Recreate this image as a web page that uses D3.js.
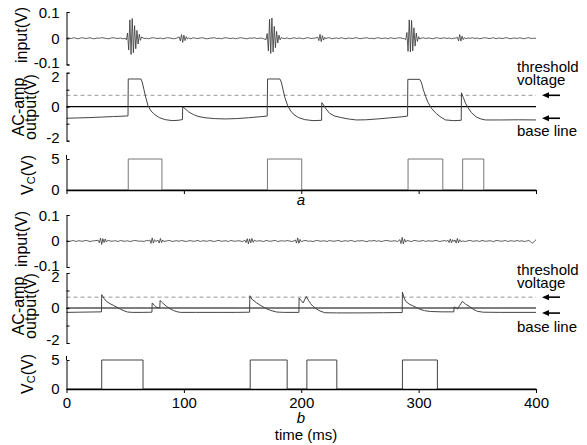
<!DOCTYPE html>
<html>
<head>
<meta charset="utf-8">
<script src="https://cdn.jsdelivr.net/npm/d3@7"></script>
<style>
  body { margin: 0; background: #fff; }
  svg { display: block; font-family: "Liberation Sans", Arial, sans-serif; }
</style>
</head>
<body>
<div id="chart"></div>
<script>
// ---- data (time in ms) ----
const timeTicks = [0, 100, 200, 300, 400];
const inputTicks = [-0.1, 0, 0.1];
const ampTicks = [-2, -1, 0, 1, 2];
const vcTicks = [0, 5];

// input noise, mV, sampled every 2 ms from 0 to 400
const noiseA = [
  0,1,-1,2,0,-2,1,2,-1,0,2,-1,-2,1,0,2,1,-1,-2,1,
  2,0,-1,1,-2,0,2,1,-1,-2,0,1,2,-1,0,-2,1,2,0,-1,
  1,-2,0,2,1,-1,-2,1,0,2,-1,0,1,-2,2,0,-1,1,2,-1,
  -2,0,1,2,-1,0,-2,1,2,0,-1,1,-2,0,2,1,-1,-2,1,0,
  2,-1,0,1,-2,1,2,-1,0,-2,1,2,0,-1,1,-2,0,2,-1,1,
  0,-2,1,2,-1,0,1,-2,2,0,-1,1,2,-2,0,1,-1,2,0,-2,
  1,0,-1,2,1,-2,0,1,2,-1,0,-2,1,2,-1,0,1,-2,2,0,
  -1,1,2,0,-2,1,-1,2,0,1,-2,0,2,-1,1,0,-2,1,2,-1,
  0,2,-1,1,-2,0,1,2,-1,0,-2,1,0,2,-1,1,-2,0,2,1,
  -1,0,2,-2,1,0,-1,2,1,-2,0,1,-1,2,0,-2,1,2,-1,0,
  0
];
const noiseB = [
  1,-1,0,2,-2,1,0,-1,2,1,-2,0,1,2,-1,-2,1,0,2,-1,
  0,1,-2,2,0,-1,1,-2,0,2,1,-1,0,-2,2,1,-1,0,1,-2,
  2,0,-1,1,2,-2,0,1,-1,2,0,-2,1,1,-1,0,2,-2,1,0,
  -1,2,0,-2,1,2,-1,0,1,-2,2,0,-1,1,0,-2,2,1,-1,0,
  2,-1,1,0,-2,2,0,-1,1,2,-2,0,1,-1,2,0,-2,1,0,1,
  -2,1,2,-1,0,-2,1,2,-1,0,1,-2,2,0,-1,1,2,-2,0,1,
  -1,2,0,-2,1,0,2,-1,-2,1,0,2,-1,1,-2,0,2,1,-1,0,
  1,-2,2,0,-1,1,0,-2,2,1,-1,0,2,-2,1,0,-1,2,1,-2,
  0,2,-1,1,-2,0,2,-1,1,0,-2,1,2,-1,0,1,-2,2,0,-1,
  1,0,-2,2,1,-1,0,2,-2,1,0,-1,2,-1,1,-2,0,2,-1,1,
  0
];
// bursts, mV, sampled every 1 ms starting at t0
const burstsA = [
  { t0: 51, v: [-6,20,-45,70,-62,75,-55,48,-40,30,-22,15,-8,5] },
  { t0: 96, v: [5,-10,14,-16,12,-9,6,-3] },
  { t0: 170, v: [-5,18,-48,72,-58,77,-52,45,-36,26,-18,12,-6,3] },
  { t0: 214, v: [4,-9,15,-13,10,-7,4,-2] },
  { t0: 289, v: [-6,22,-50,70,-52,68,-48,40,-30,20,-12,6,-3] },
  { t0: 333, v: [4,-10,14,-11,8,-5,3] }
];
const burstsB = [
  { t0: 27, v: [3,-7,11,-13,9,-6,8,-4,2] },
  { t0: 71, v: [4,-9,12,-8,5,-2] },
  { t0: 78, v: [3,-8,10,-6,4,-2] },
  { t0: 152, v: [3,-6,9,-11,8,-7,10,-5,3] },
  { t0: 195, v: [4,-8,12,-9,6,-3] },
  { t0: 284, v: [5,-10,14,-11,7,-4,2] },
  { t0: 325, v: [3,-6,8,-7,5,-2] },
  { t0: 331, v: [4,-8,10,-7,5,-2] },
  { t0: 394, v: [2,-2,-5,-8,-5,1,5] }
];

// AC-amp output [t, V]
const ampA = [
  [0,-0.68],[10,-0.66],[20,-0.64],[30,-0.61],[40,-0.58],[50,-0.55],[52.4,-0.54],
  [52.6,1.63],[63.4,1.63],[64.5,1.45],[66,1.0],[67.5,0.55],[69.5,0.05],[72,-0.25],
  [75,-0.45],[79,-0.64],[84,-0.76],[90,-0.82],[95,-0.8],[98.8,-0.76],[99,0.0],
  [101,-0.12],[104,-0.3],[108,-0.46],[112,-0.57],[118,-0.65],[126,-0.7],[135,-0.72],
  [145,-0.7],[155,-0.65],[165,-0.59],[171,-0.55],[171.3,1.63],[181.8,1.63],[183,1.45],
  [184.5,1.0],[186,0.55],[188.5,0.05],[191,-0.25],[194,-0.48],[198,-0.65],[203,-0.76],
  [210,-0.82],[217.3,-0.8],[217.5,0.24],[219,0.1],[221,-0.12],[224,-0.38],[228,-0.54],
  [234,-0.64],[240,-0.72],[247,-0.78],[255,-0.77],[265,-0.72],[275,-0.66],[285,-0.6],
  [290.6,-0.55],[290.8,1.61],[301,1.61],[302.5,1.4],[304,1.0],[306,0.6],[308,0.25],
  [311,-0.1],[315,-0.4],[319,-0.62],[323,-0.78],[330,-0.82],[336.3,-0.8],[336.5,0.82],
  [338,0.55],[340,0.2],[342,-0.05],[345,-0.35],[349,-0.6],[353,-0.72],[357,-0.78],
  [370,-0.78],[385,-0.77],[400,-0.78]
];
const ampB = [
  [0,-0.25],[10,-0.24],[20,-0.23],[29.8,-0.22],[30,0.76],[32,0.55],[34,0.38],[37,0.25],
  [40,0.15],[43,0.04],[46,-0.07],[49,-0.16],[52,-0.23],[56,-0.25],[65,-0.25],[72.8,-0.24],
  [73,0.29],[75,0.14],[77,0.03],[79.5,0.02],[79.7,0.43],[82,0.28],[85,0.1],[88,-0.03],
  [91,-0.14],[94,-0.21],[97,-0.25],[110,-0.25],[130,-0.25],[145,-0.25],[156,-0.24],
  [156.2,0.7],[158,0.5],[162,0.29],[166,0.12],[170,-0.03],[174,-0.14],[179,-0.23],
  [185,-0.25],[198,-0.25],[198.2,0.57],[200,0.42],[201.6,0.29],[204.3,0.66],[206,0.45],
  [208,0.25],[210,0.1],[213,-0.06],[216,-0.17],[220,-0.27],[230,-0.28],[250,-0.28],
  [270,-0.27],[286,-0.26],[286.2,0.91],[287.5,0.6],[289,0.38],[292,0.22],[295,0.13],
  [298,0.03],[301,-0.07],[305,-0.15],[310,-0.2],[320,-0.22],[330,-0.22],[330.2,0.06],
  [332,0.0],[333,-0.06],[335,0.15],[337.3,0.38],[340,0.22],[343,0.1],[346,-0.05],
  [350,-0.19],[355,-0.24],[370,-0.25],[400,-0.25]
];
const thresholdA = 0.67, baseA = -0.68;
const thresholdB = 0.62, baseB = -0.29;

// Vc pulses [start, end] in ms, 5 V high
const pulsesA = [[52.6,81.3],[171.2,200.4],[291,320.6],[337.5,355.5]];
const pulsesB = [[30,65.2],[156.5,188],[204.8,230.3],[286.2,316]];
const pulseHigh = 5;

// ---- drawing ----
const W = 587, H = 445;
const svg = d3.select("#chart").append("svg")
  .attr("width", W).attr("height", H);
svg.append("rect").attr("width", W).attr("height", H).attr("fill", "#fff");

const x = d3.scaleLinear().domain([0, 400]).range([66.5, 536]);

// merge noise (2 ms) and bursts (1 ms) into one sorted trace
function buildInput(noise, bursts) {
  const pts = [];
  noise.forEach((v, i) => {
    const t = i * 2;
    const inBurst = bursts.some(b => t >= b.t0 && t <= b.t0 + b.v.length - 1);
    if (!inBurst) pts.push([t, v / 1000]);
  });
  bursts.forEach(b => b.v.forEach((v, j) => pts.push([b.t0 + j, v / 1000])));
  return pts.sort((a, b) => a[0] - b[0]);
}

function pulsePath(pulses) {
  const pts = [[0, 0]];
  pulses.forEach(p => {
    pts.push([p[0], 0], [p[0], pulseHigh], [p[1], pulseHigh], [p[1], 0]);
  });
  pts.push([400, 0]);
  return pts;
}

function yAxis(g, y, ticks, fmt, outer, nudge) {
  g.call(d3.axisLeft(y).tickValues(ticks).tickFormat(fmt)
      .tickSizeInner(-3).tickSizeOuter(outer).tickPadding(7))
    .call(s => s.selectAll("text").attr("font-size", 15).attr("fill", "#000")
      .attr("y", d => (nudge ? nudge(d) : 0)))
    .call(s => s.selectAll("line,path").attr("stroke", "#000"));
}

function drawBlock(cfg) {
  const yIn = d3.scaleLinear().domain([-0.1, 0.1]).range(cfg.inRange);
  const yAmp = d3.scaleLinear().domain([-2, 2]).range(cfg.ampRange);
  const yVc = d3.scaleLinear().domain([0, 5]).range(cfg.vcRange);

  // input trace
  svg.append("path")
    .datum(buildInput(cfg.noise, cfg.bursts))
    .attr("fill", "none").attr("stroke", "#333").attr("stroke-width", 0.8)
    .attr("d", d3.line().x(d => x(d[0])).y(d => yIn(d[1])));
  yAxis(svg.append("g").attr("transform", "translate(66.5,0)"), yIn, inputTicks,
    d => String(d), -3, d => (d > 0 ? 1 : d < 0 ? -1.5 : 0));

  // AC-amp output
  svg.append("line")
    .attr("x1", x(0)).attr("x2", x(400))
    .attr("y1", yAmp(cfg.threshold)).attr("y2", yAmp(cfg.threshold))
    .attr("stroke", "#999").attr("stroke-width", 1).attr("stroke-dasharray", "4,3");
  svg.append("line")
    .attr("x1", x(0)).attr("x2", x(400))
    .attr("y1", yAmp(0)).attr("y2", yAmp(0))
    .attr("stroke", "#000").attr("stroke-width", 1.2);
  svg.append("path")
    .datum(cfg.amp)
    .attr("fill", "none").attr("stroke", "#444").attr("stroke-width", 1)
    .attr("d", d3.line().x(d => x(d[0])).y(d => yAmp(d[1])));
  yAxis(svg.append("g").attr("transform", "translate(66.5,0)"), yAmp, ampTicks,
    d => (d % 2 === 0 ? String(d) : ""), -3, d => (d > 0 ? 4 : d < 0 ? -3 : 0));

  // arrows + notes
  [cfg.threshold, cfg.base].forEach(v => {
    const yy = yAmp(v);
    svg.append("line").attr("x1", 546).attr("x2", 560).attr("y1", yy).attr("y2", yy)
      .attr("stroke", "#000").attr("stroke-width", 1.6);
    svg.append("path")
      .attr("d", `M542,${yy} L549,${yy - 3} L549,${yy + 3} Z`).attr("fill", "#000");
  });
  const note = svg.append("g").attr("font-size", 15).attr("fill", "#000");
  note.append("text").attr("x", 517).attr("y", cfg.noteY[0]).text("threshold");
  note.append("text").attr("x", 517).attr("y", cfg.noteY[1]).text("voltage");
  note.append("text").attr("x", 517).attr("y", cfg.noteY[2]).text("base line");

  // Vc
  svg.append("path")
    .datum(pulsePath(cfg.pulses))
    .attr("fill", "none").attr("stroke", cfg.pulseColor).attr("stroke-width", 1)
    .attr("d", d3.line().x(d => x(d[0])).y(d => yVc(d[1])));
  const gv = svg.append("g").attr("transform", "translate(66.5,0)");
  yAxis(gv, yVc, vcTicks, d => String(d), 0);
  gv.append("line").attr("x1", 0).attr("x2", 0)
    .attr("y1", yVc(5) - 4).attr("y2", yVc(5)).attr("stroke", "#000");

  const gx = svg.append("g").attr("transform", `translate(0,${cfg.vcRange[0]})`);
  gx.call(d3.axisBottom(x).tickValues(timeTicks)
      .tickFormat(cfg.xLabels ? d => String(d) : "")
      .tickSizeInner(4).tickSizeOuter(0).tickPadding(4))
    .call(s => s.selectAll("text").attr("font-size", 15).attr("fill", "#000"))
    .call(s => s.selectAll("line").attr("stroke", "#000"))
    .call(s => s.select(".domain").attr("stroke", "#000").attr("stroke-width", 1.3));

  // y labels (rotated)
  const lab1 = svg.append("text")
    .attr("transform", `translate(0,${cfg.labelY[0]}) rotate(-90)`)
    .attr("text-anchor", "middle").attr("font-size", 16).attr("fill", "#000");
  lab1.append("tspan").attr("x", 0).attr("y", 27).text("input(V)");

  const lab2 = svg.append("text")
    .attr("transform", `translate(0,${cfg.labelY[1]}) rotate(-90)`)
    .attr("text-anchor", "middle").attr("font-size", 16).attr("fill", "#000");
  lab2.append("tspan").attr("x", 0).attr("y", 24).text("AC-amp");
  lab2.append("tspan").attr("x", 0).attr("y", 36).text("output(V)");

  const vc = svg.append("text")
    .attr("transform", `translate(33,${cfg.labelY[2]}) rotate(-90)`)
    .attr("text-anchor", "middle").attr("font-size", 16).attr("fill", "#000");
  vc.append("tspan").text("V");
  vc.append("tspan").attr("font-size", 11).attr("dy", 2).text("C");
  vc.append("tspan").attr("dy", -2).text("(V)");

  svg.append("text").attr("x", 301).attr("y", cfg.letterY)
    .attr("text-anchor", "middle").attr("font-size", 15).attr("font-style", "italic")
    .text(cfg.letter);
}

drawBlock({
  noise: noiseA, bursts: burstsA, amp: ampA, threshold: thresholdA, base: baseA,
  pulses: pulsesA, pulseColor: "#777",
  inRange: [64.5, 12], ampRange: [140.7, 72.7], vcRange: [190, 159],
  noteY: [72, 85, 136], labelY: [35, 107, 175], letter: "a", letterY: 205, xLabels: false
});
drawBlock({
  noise: noiseB, bursts: burstsB, amp: ampB, threshold: thresholdB, base: baseB,
  pulses: pulsesB, pulseColor: "#444",
  inRange: [267, 215], ampRange: [343, 273], vcRange: [389, 360],
  noteY: [275, 288, 332], labelY: [239, 306, 374], letter: "b", letterY: 423, xLabels: true
});

svg.append("text").attr("x", 306).attr("y", 440)
  .attr("text-anchor", "middle").attr("font-size", 15).attr("fill", "#000")
  .text("time (ms)");
</script>
</body>
</html>
